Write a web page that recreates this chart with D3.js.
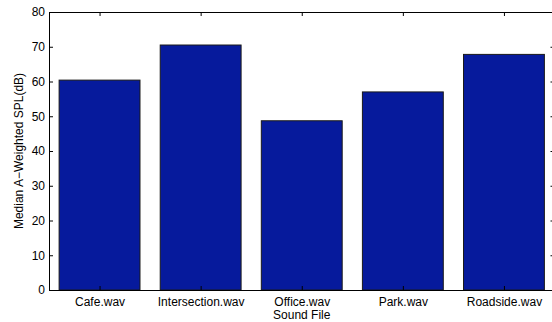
<!DOCTYPE html>
<html>
<head>
<meta charset="utf-8">
<script src="https://cdn.jsdelivr.net/npm/d3@7"></script>
<style>
  html, body { margin: 0; padding: 0; background: #fff; }
  svg { display: block; font-family: "Liberation Sans", Arial, Helvetica, sans-serif; }
</style>
</head>
<body>
<svg id="chart" width="552" height="322"></svg>
<script>
// Median A-weighted sound pressure level per recording
const categories = ["Cafe.wav", "Intersection.wav", "Office.wav", "Park.wav", "Roadside.wav"];
const splValues = [60.4, 70.5, 48.7, 57.0, 67.8];
const yTicks = [0, 10, 20, 30, 40, 50, 60, 70, 80];

const svg = d3.select("#chart");
const plotLeft = 49, plotRight = 554.5, plotTop = 12, plotBottom = 290;
const tickLen = 4;
const fontFam = "Liberation Sans, Arial, sans-serif";

// Positions 1..n with half-step padding on either side
const x = d3.scaleLinear().domain([0.5, categories.length + 0.5]).range([plotLeft, plotRight]);
const y = d3.scaleLinear().domain([0, 80]).range([plotBottom, plotTop]);
const barW = (x(1) - x(0)) * 0.8;

// Bars
svg.append("g").selectAll("rect")
  .data(splValues)
  .join("rect")
  .attr("x", (d, i) => x(i + 1) - barW / 2)
  .attr("y", d => y(d))
  .attr("width", barW)
  .attr("height", d => y(0) - y(d))
  .attr("fill", "#061a9c")
  .attr("stroke", "#1a1a1a")
  .attr("stroke-width", 1);

// Left axis (ticks pointing inward)
const yAxis = d3.axisLeft(y).tickValues(yTicks).tickSize(-tickLen).tickPadding(4).tickSizeOuter(0);
const gy = svg.append("g").attr("transform", `translate(${plotLeft},0)`).call(yAxis);
gy.select(".domain").attr("stroke", "#000");
gy.selectAll(".tick line").attr("stroke", "#000");
gy.selectAll("text").attr("font-size", 12).attr("fill", "#000").attr("font-family", fontFam);

// Right axis ticks (no labels)
const yAxisR = d3.axisRight(y).tickValues(yTicks).tickSize(-tickLen).tickFormat("").tickSizeOuter(0);
const gyr = svg.append("g").attr("transform", `translate(${plotRight},0)`).call(yAxisR);
gyr.select(".domain").attr("stroke", "#000");
gyr.selectAll(".tick line").attr("stroke", "#000");

// Bottom axis with category labels
const xAxis = d3.axisBottom(x).tickValues(d3.range(1, categories.length + 1))
  .tickFormat(i => categories[i - 1]).tickSize(-tickLen).tickPadding(7).tickSizeOuter(0);
const gx = svg.append("g").attr("transform", `translate(0,${plotBottom})`).call(xAxis);
gx.select(".domain").attr("stroke", "#000");
gx.selectAll(".tick line").attr("stroke", "#000");
gx.selectAll("text").attr("font-size", 12).attr("fill", "#000").attr("font-family", fontFam);

// Top axis ticks (no labels)
const xAxisT = d3.axisTop(x).tickValues(d3.range(1, categories.length + 1))
  .tickFormat("").tickSize(-tickLen).tickSizeOuter(0);
const gxt = svg.append("g").attr("transform", `translate(0,${plotTop})`).call(xAxisT);
gxt.select(".domain").attr("stroke", "#000");
gxt.selectAll(".tick line").attr("stroke", "#000");

// Axis titles
svg.append("text")
  .attr("x", x(3))
  .attr("y", 319)
  .attr("text-anchor", "middle")
  .attr("font-size", 12)
  .text("Sound File");

svg.append("text")
  .attr("transform", `translate(23,${(plotTop + plotBottom) / 2}) rotate(-90)`)
  .attr("text-anchor", "middle")
  .attr("font-size", 12)
  .text("Median A\u2212Weighted SPL(dB)");
</script>
</body>
</html>
